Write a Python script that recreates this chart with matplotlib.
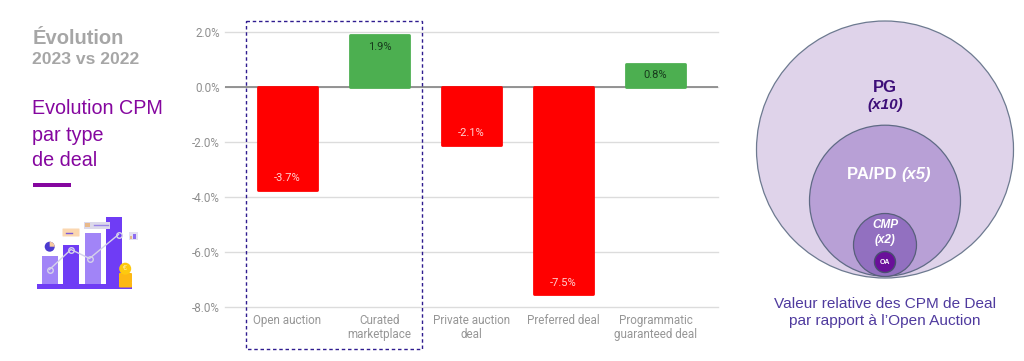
import matplotlib
matplotlib.use("Agg")
import matplotlib.pyplot as plt
from matplotlib.patches import Circle, Rectangle, FancyBboxPatch, Wedge

plt.rcParams['font.family'] = ['Liberation Sans', 'DejaVu Sans']

categories = ["Open auction", "Curated\nmarketplace", "Private auction\ndeal", "Preferred deal", "Programmatic\nguaranteed deal"]
# bar heights, the printed labels are rounded differently
values = [-3.75, 1.9, -2.1, -7.55, 0.85]
value_labels = ["-3.7%", "1.9%", "-2.1%", "-7.5%", "0.8%"]
yticks = [2, 0, -2, -4, -6, -8]
ytick_labels = ["2.0%", "0.0%", "-2.0%", "-4.0%", "-6.0%", "-8.0%"]

W, H = 1024, 361
fig = plt.figure(figsize=(W / 100, H / 100), dpi=100, facecolor="white")

# bar chart, axes placed in pixels: x 225-718, 2% at y=32, -8% at y=306.5
top_px, bottom_px = 32.3, 306.5
ax = fig.add_axes([225 / W, 1 - bottom_px / H, (718 - 225) / W, (bottom_px - top_px) / H])
ax.set_ylim(-8, 2)
ax.set_xlim((225 - 287.5) / 92, (718 - 287.5) / 92)
ax.patch.set_alpha(0)
for s in ax.spines.values():
    s.set_visible(False)
ax.set_yticks(yticks)
ax.set_yticklabels(ytick_labels, fontsize=8.4, color="#8f8f8f", family="Roboto")
ax.tick_params(axis="y", length=0, pad=3.5)
ax.tick_params(axis="x", length=0, pad=5.5)
ax.set_xticks(range(len(categories)))
ax.set_xticklabels(categories, fontsize=8.4, color="#969696", family="Roboto", linespacing=1.05)
ax.grid(axis="y", color="#dcdcdc", linewidth=1, zorder=0, clip_on=False)
ax.set_axisbelow(True)
ax.axhline(0, color="#8c8c8c", linewidth=1.3, zorder=1.5)

for i, v in enumerate(values):
    col = "#ff0000" if v < 0 else "#4caf50"
    ax.bar(i, v, width=0.645, color=col, edgecolor=col, linewidth=2, joinstyle="round", zorder=2)
    if v < 0:
        ax.text(i, v + 0.42, value_labels[i], ha="center", va="center", color="#ffd0d0", fontsize=8, family="Roboto", zorder=3)
    else:
        ax.text(i, v - 0.42, value_labels[i], ha="center", va="center", color="#173a1c", fontsize=8, family="Roboto", zorder=3)

# overlay in pixel coordinates for everything around the chart
ov = fig.add_axes([0, 0, 1, 1])
ov.set_xlim(0, W)
ov.set_ylim(H, 0)
ov.axis("off")
ov.patch.set_alpha(0)

# dashed box round open auction and curated marketplace
ov.add_patch(Rectangle((246.3, 20.8), 175.4, 328, fill=False, edgecolor="#2f1c8f", linewidth=1, linestyle=(0, (2.5, 2))))

# left text
ov.text(32.5, 38.5, "Évolution", fontsize=14.5, fontweight="bold", color="#a6a6a6", va="center")
ov.text(32.5, 60, "2023 vs 2022", fontsize=12.6, fontweight="bold", color="#a6a6a6", va="center")
ov.text(32.5, 108.5, "Evolution CPM", fontsize=14.2, color="#85069f", va="center")
ov.text(32.5, 135.5, "par type", fontsize=14.2, color="#85069f", va="center")
ov.text(32.5, 160.5, "de deal", fontsize=14.2, color="#85069f", va="center")
ov.add_patch(Rectangle((33, 182.5), 38, 4.5, color="#85069f", linewidth=0))

# small icon
dark, light = "#6f3cf5", "#a184f7"
for x, y, c in [(41.5, 256, light), (63, 244.5, dark), (84.5, 232.5, light), (106, 217, dark)]:
    ov.add_patch(Rectangle((x, y), 16, 284 - y, color=c, linewidth=0))
ov.add_patch(Rectangle((37, 284), 95, 4.5, color=dark, linewidth=0))
line_x = [49.5, 71, 89.5, 118.5]
line_y = [269.5, 249.5, 258.5, 234.5]
ov.plot(line_x, line_y, color="#d5d2ea", linewidth=1, marker="o", markersize=4, markerfacecolor="none", markeredgecolor="#d5d2ea")
ov.add_patch(FancyBboxPatch((63, 229), 16, 7, boxstyle="round,pad=0.5", color="#fbd7b0", linewidth=0))
ov.plot([66, 72], [232.5, 232.5], color="#7a5ad8", linewidth=1)
ov.add_patch(Rectangle((83.5, 221.5), 26.5, 7, color="#dcd9ea", linewidth=0))
ov.add_patch(Rectangle((85, 223), 5, 4, color="#e8b98a", linewidth=0))
ov.plot([94, 108], [225, 225], color="#9a86e8", linewidth=1)
ov.add_patch(Rectangle((128.5, 232), 9, 8, color="#e4e1f0", linewidth=0))
ov.add_patch(Rectangle((133, 233.5), 2.5, 5.5, color="#8d6cf0", linewidth=0))
ov.add_patch(Rectangle((130, 236), 2, 3, color="#e8b98a", linewidth=0))
ov.add_patch(Circle((49.7, 246.7), 5, color="#4b3ad0", linewidth=0))
ov.add_patch(Wedge((49.7, 246.7), 5, -90, 0, color="#f5c9a0", linewidth=0))
for y in [284.5, 280, 275.5]:
    ov.add_patch(FancyBboxPatch((120, y - 1.5), 11, 3.5, boxstyle="round,pad=1", color="#fdb813", linewidth=0))
ov.add_patch(Circle((125.2, 268.7), 6, color="#fdc90f", linewidth=0))
ov.text(125.2, 268.9, "€", fontsize=5, color="#fff3c0", ha="center", va="center")

# nested circles, all touching near the bottom
ov.add_patch(Circle((885, 149.5), 128.5, facecolor="#dfd3ea", edgecolor="#6d7a90", linewidth=0.9))
ov.add_patch(Circle((885, 200.7), 75.5, facecolor="#b8a0d6", edgecolor="#5f6a85", linewidth=0.9))
ov.add_patch(Circle((885, 245), 31.5, facecolor="#9270c0", edgecolor="#575f7a", linewidth=0.9))
ov.add_patch(Circle((885, 262), 10.5, facecolor="#6a0f9a", edgecolor="#4a4f70", linewidth=1))
ov.text(885, 87, "PG", fontsize=12, fontweight="bold", color="#3d0e78", ha="center", va="center")
ov.text(885, 105, "(x10)", fontsize=11, fontweight="bold", fontstyle="italic", color="#3d0e78", ha="center", va="center")
ov.text(901, 174.5, "PA/PD ", fontsize=12, fontweight="bold", color="white", ha="right", va="center")
ov.text(901, 174.5, "(x5)", fontsize=12, fontweight="bold", fontstyle="italic", color="white", ha="left", va="center")
ov.text(885, 224.5, "CMP", fontsize=8.5, fontweight="bold", fontstyle="italic", color="white", ha="center", va="center")
ov.text(885, 240, "(x2)", fontsize=8.5, fontweight="bold", fontstyle="italic", color="white", ha="center", va="center")
ov.text(885, 262, "OA", fontsize=5, fontweight="bold", color="white", ha="center", va="center")
ov.text(885, 303.5, "Valeur relative des CPM de Deal", fontsize=11.1, color="#4f3a9e", ha="center", va="center")
ov.text(885, 321, "par rapport à l’Open Auction", fontsize=11.1, color="#4f3a9e", ha="center", va="center")

fig.savefig("out.png", dpi=100)
